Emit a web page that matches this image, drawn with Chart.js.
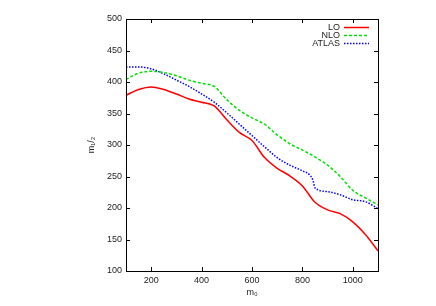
<!DOCTYPE html>
<html>
<head>
<meta charset="utf-8">
<script src="https://cdn.jsdelivr.net/npm/chart.js@4/dist/chart.umd.min.js"></script>
<style>
html,body{margin:0;padding:0;background:#fff;}
#wrap{width:436px;height:306px;}
</style>
</head>
<body>
<div id="wrap"><canvas id="c" width="436" height="306"></canvas></div>
<script>
// m0 values shared by LO and NLO
const m0Grid = [100,150,200,250,300,350,400,450,500,550,600,650,700,750,800,850,900,950,1000,1050,1100];
const loValues  = [379,388,392,388,381,373,368,362,340,320,307,280,263,251,235,209,197,191,178,158,132];
const nloValues = [404,414,417,415,410,403,398,393,372,355,343,333,316,302,292,281,268,250,228,216,205];
// ATLAS curve
const atlasM0     = [100,150,175,200,250,300,350,400,450,500,550,600,650,700,750,800,830,842,850,900,950,1000,1050,1100];
const atlasValues = [424,424,423,421,413,403,393,381,368,351,333,315,297,280,268,259,252,244,232,226,221,213,210,199];
const seriesLabels = ['LO','NLO','ATLAS'];
const xRange = [100, 1100];
const xTickValues = [200, 400, 600, 800, 1000];
const yRange = [100, 500];
const yTickValues = [100, 150, 200, 250, 300, 350, 400, 450, 500];

const pts = (xs, ys) => xs.map((x, i) => ({x: x, y: ys[i]}));
const FONT = {family: '"Liberation Sans", Arial, sans-serif', size: 9};
const TXT = '#222';

const framePlugin = {
  id: 'frame',
  afterDatasetsDraw(chart) {
    const {ctx, chartArea: a, scales: {x, y}} = chart;
    ctx.save();
    ctx.strokeStyle = '#000';
    ctx.lineWidth = 1;
    ctx.strokeRect(Math.round(a.left) + 0.5, Math.round(a.top) + 0.5,
                   Math.round(a.right - a.left), Math.round(a.bottom - a.top));
    const tl = 4;
    ctx.beginPath();
    x.ticks.forEach(t => {
      const px = Math.round(x.getPixelForValue(t.value)) + 0.5;
      ctx.moveTo(px, a.bottom); ctx.lineTo(px, a.bottom - tl);
      ctx.moveTo(px, a.top); ctx.lineTo(px, a.top + tl);
    });
    y.ticks.forEach(t => {
      const py = Math.round(y.getPixelForValue(t.value)) + 0.5;
      ctx.moveTo(a.left, py); ctx.lineTo(a.left + tl, py);
      ctx.moveTo(a.right, py); ctx.lineTo(a.right - tl, py);
    });
    ctx.stroke();
    ctx.restore();
  },
  afterDraw(chart) {
    const {ctx, chartArea: a} = chart;
    ctx.save();
    ctx.font = FONT.size + 'px ' + FONT.family;
    ctx.textAlign = 'right';
    ctx.textBaseline = 'middle';
    chart.data.datasets.forEach((ds, i) => {
      const yy = a.top + 8.5 + i * 8;
      const xEnd = a.right - 9;
      ctx.fillStyle = TXT;
      ctx.fillText(ds.label, xEnd - 29, yy);
      ctx.beginPath();
      ctx.strokeStyle = ds.borderColor;
      ctx.lineWidth = ds.borderWidth;
      ctx.setLineDash(ds.borderDash || []);
      ctx.moveTo(xEnd - 25, yy); ctx.lineTo(xEnd, yy);
      ctx.stroke();
    });
    ctx.restore();
  }
};

new Chart(document.getElementById('c'), {
  type: 'line',
  data: {
    datasets: [
      {label: seriesLabels[0], data: pts(m0Grid, loValues), borderColor: '#ff0000', borderWidth: 1.5, borderDash: []},
      {label: seriesLabels[1], data: pts(m0Grid, nloValues), borderColor: '#00e000', borderWidth: 1.5, borderDash: [3, 2]},
      {label: seriesLabels[2], data: pts(atlasM0, atlasValues), borderColor: '#0000ff', borderWidth: 1.5, borderDash: [1.5, 1.5]}
    ]
  },
  options: {
    responsive: false,
    animation: false,
    events: [],
    layout: {padding: {left: 84, right: 58, top: 19, bottom: 0}},
    elements: {point: {radius: 0}, line: {cubicInterpolationMode: 'monotone', fill: false}},
    plugins: {legend: {display: false}, tooltip: {enabled: false}},
    scales: {
      x: {
        type: 'linear', min: xRange[0], max: xRange[1],
        afterBuildTicks: s => { s.ticks = xTickValues.map(v => ({value: v})); },
        afterFit: s => { s.height = 35; },
        grid: {display: false, drawTicks: false},
        border: {display: false},
        ticks: {padding: 4, color: TXT, font: FONT, maxRotation: 0, autoSkip: false, callback: v => String(v)},
        title: {display: true, text: 'm₀', color: TXT, font: FONT, padding: {top: 0, bottom: 8}}
      },
      y: {
        type: 'linear', min: yRange[0], max: yRange[1],
        afterBuildTicks: s => { s.ticks = yTickValues.map(v => ({value: v})); },
        afterFit: s => { s.width = 42; },
        grid: {display: false, drawTicks: false},
        border: {display: false},
        ticks: {padding: 4, color: TXT, font: FONT, autoSkip: false, callback: v => String(v)},
        title: {display: true, text: 'm₁/₂', color: TXT, font: FONT, padding: {top: 2, bottom: 2}}
      }
    }
  },
  plugins: [framePlugin]
});
</script>
</body>
</html>
